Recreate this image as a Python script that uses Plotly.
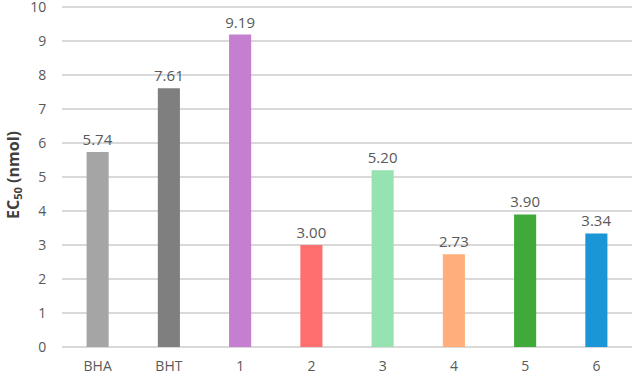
import plotly.graph_objects as go

categories = ["BHA", "BHT", "1", "2", "3", "4", "5", "6"]
ec50_values = [5.74, 7.61, 9.19, 3.00, 5.20, 2.73, 3.90, 3.34]
bar_colors = ["#a5a5a5", "#7f7f7f", "#c47fd0", "#ff6f6f", "#96e3b1", "#ffae7c", "#3faa3a", "#1a96d6"]
y_ticks = [0, 1, 2, 3, 4, 5, 6, 7, 8, 9, 10]

fig = go.Figure(go.Bar(
    x=categories,
    y=ec50_values,
    marker=dict(color=bar_colors, line=dict(width=0)),
    text=[f"{v:.2f}" for v in ec50_values],
    textposition="outside",
    constraintext="none",
    textfont=dict(size=15, color="#595959"),
    cliponaxis=False,
))

fig.update_layout(
    width=634, height=376,
    margin=dict(l=62, r=2, t=3, b=29, autoexpand=False),
    paper_bgcolor="white",
    plot_bgcolor="white",
    font=dict(family="Open Sans, Liberation Sans, sans-serif", color="#595959", size=13),
    bargap=0.69,
    showlegend=False,
    xaxis=dict(
        showgrid=False, showline=False, zeroline=False,
        tickfont=dict(size=14, color="#595959"),
        ticks="outside", tickcolor="rgba(0,0,0,0)", ticklen=6,
        automargin=False,
    ),
    yaxis=dict(
        range=[0, 10.12],
        tickvals=y_ticks,
        showgrid=True, gridcolor="#d9d9d9", gridwidth=1.5,
        zeroline=True, zerolinecolor="#d9d9d9", zerolinewidth=1.5,
        showline=False,
        tickfont=dict(size=14, color="#595959"),
        ticklabeloverflow="allow",
        ticks="outside", tickcolor="rgba(0,0,0,0)", ticklen=12,
        automargin=False,
        title=dict(text="<b>EC<sub>50</sub> (nmol)</b>", font=dict(size=16, color="#404040"), standoff=6),
    ),
)

fig.write_html(
    "out.html",
    config={"displayModeBar": False},
    post_script="document.body.style.margin='0';document.body.style.overflow='hidden';",
)
